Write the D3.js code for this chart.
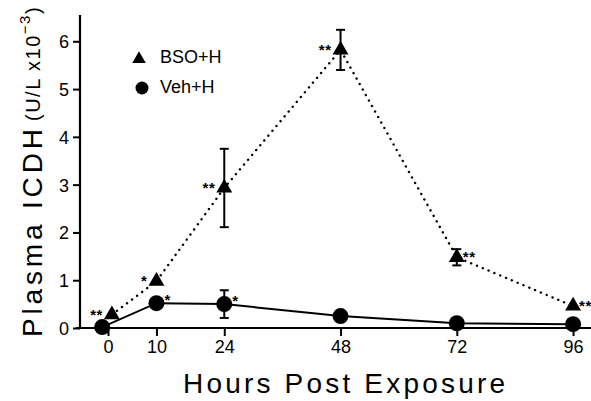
<!DOCTYPE html>
<html>
<head>
<meta charset="utf-8">
<script src="https://cdn.jsdelivr.net/npm/d3@7"></script>
<style>
  body { margin: 0; background: #fff; }
  svg { display: block; font-family: "Liberation Sans", Arial, sans-serif; }
</style>
</head>
<body>
<div id="chart"></div>
<script>
// hours at which samples were taken (markers are nudged a little in the original)
var hoursBSO = [0.8, 10, 24, 48, 72, 96];
var valuesBSO = [0.28, 0.98, 2.93, 5.82, 1.48, 0.46];
var errBSO = [0, 0, 0.82, 0.42, 0.17, 0];
var sigBSO = ["**", "*", "**", "**", "**", "**"];
var sideBSO = ["left", "left", "left", "left", "right", "right"];

var hoursVeh = [-1.2, 10, 24, 48, 72, 96];
var valuesVeh = [0.02, 0.52, 0.50, 0.25, 0.10, 0.08];
var errVeh = [0, 0, 0.29, 0, 0, 0];
var sigVeh = ["", "*", "*", "", "", ""];

var xTicks = [0, 10, 24, 48, 72, 96];
var yTicks = [0, 1, 2, 3, 4, 5, 6];

const width = 591, height = 401;

const svg = d3.select("#chart").append("svg")
  .attr("width", width)
  .attr("height", height);

// scales
const x = d3.scaleLinear().domain([-5.78, 99.7]).range([80, 591]);
const y = d3.scaleLinear().domain([0, 6.55]).range([328, 15]);

const bso = hoursBSO.map((h, i) => ({h: h, v: valuesBSO[i], e: errBSO[i], s: sigBSO[i], side: sideBSO[i]}));
const veh = hoursVeh.map((h, i) => ({h: h, v: valuesVeh[i], e: errVeh[i], s: sigVeh[i]}));

// axes
const xAxis = d3.axisBottom(x).tickValues(xTicks).tickSize(8).tickSizeOuter(0).tickPadding(4);
const yAxis = d3.axisLeft(y).tickValues(yTicks).tickFormat(d3.format("d")).tickSize(7).tickSizeOuter(0).tickPadding(4);

const gx = svg.append("g").attr("transform", `translate(0,${y(0)})`).call(xAxis);
const gy = svg.append("g").attr("transform", `translate(${x.range()[0]},0)`).call(yAxis);

[gx, gy].forEach(g => {
  g.select(".domain").remove();
  g.selectAll("line").attr("stroke", "#000").attr("stroke-width", 2);
  g.selectAll("text")
    .attr("fill", "#000")
    .style("font-size", "18px")
    .style("font-family", "'Liberation Sans', Arial, sans-serif");
});
gy.selectAll("text").attr("dy", "0.36em");

// axis lines
svg.append("line")
  .attr("x1", 76).attr("x2", width)
  .attr("y1", y(0)).attr("y2", y(0))
  .attr("stroke", "#000").attr("stroke-width", 2.2);
svg.append("line")
  .attr("x1", x.range()[0]).attr("x2", x.range()[0])
  .attr("y1", y.range()[1]).attr("y2", y(0) + 1)
  .attr("stroke", "#000").attr("stroke-width", 2.2);

// lines
const line = d3.line().x(d => x(d.h)).y(d => y(d.v));

svg.append("path")
  .datum(veh)
  .attr("d", line)
  .attr("fill", "none")
  .attr("stroke", "#000")
  .attr("stroke-width", 2);

svg.append("path")
  .datum(bso)
  .attr("d", line)
  .attr("fill", "none")
  .attr("stroke", "#000")
  .attr("stroke-width", 2.4)
  .attr("stroke-linecap", "round")
  .attr("stroke-dasharray", "0.1,6.2");

// error bars
function errorBars(data) {
  const g = svg.append("g");
  data.filter(d => d.e > 0).forEach(d => {
    const cx = x(d.h);
    g.append("line")
      .attr("x1", cx).attr("x2", cx)
      .attr("y1", y(d.v + d.e)).attr("y2", y(d.v - d.e))
      .attr("stroke", "#000").attr("stroke-width", 2);
    [d.v + d.e, d.v - d.e].forEach(v => {
      g.append("line")
        .attr("x1", cx - 4.5).attr("x2", cx + 4.5)
        .attr("y1", y(v)).attr("y2", y(v))
        .attr("stroke", "#000").attr("stroke-width", 2);
    });
  });
}
errorBars(bso);
errorBars(veh);

// markers
const tri = d3.symbol().type(d3.symbolTriangle);

svg.selectAll(".tri")
  .data(bso)
  .enter()
  .append("path")
  .attr("class", "tri")
  .attr("d", tri.size(110))
  .attr("transform", d => `translate(${x(d.h)},${y(d.v)})`)
  .attr("fill", "#000");

svg.selectAll(".dot")
  .data(veh)
  .enter()
  .append("circle")
  .attr("class", "dot")
  .attr("cx", d => x(d.h))
  .attr("cy", d => y(d.v))
  .attr("r", 8)
  .attr("fill", "#000");

// significance stars
svg.selectAll(".sigB")
  .data(bso)
  .enter()
  .append("text")
  .attr("class", "sigB")
  .attr("x", d => d.side == "left" ? x(d.h) - 9 : x(d.h) + 6)
  .attr("y", d => y(d.v) + 5)
  .attr("text-anchor", d => d.side == "left" ? "end" : "start")
  .style("font-size", "15px")
  .style("font-weight", "bold")
  .style("letter-spacing", "0.5px")
  .text(d => d.s);

svg.selectAll(".sigV")
  .data(veh)
  .enter()
  .append("text")
  .attr("class", "sigV")
  .attr("x", d => x(d.h) + 8)
  .attr("y", d => y(d.v) + 2)
  .style("font-size", "15px")
  .style("font-weight", "bold")
  .text(d => d.s);

// legend
const legend = svg.append("g");
legend.append("path")
  .attr("d", tri.size(80))
  .attr("transform", "translate(139,59)")
  .attr("fill", "#000");
legend.append("text")
  .attr("x", 160).attr("y", 63)
  .style("font-size", "18px")
  .text("BSO+H");
legend.append("circle")
  .attr("cx", 142).attr("cy", 88).attr("r", 6.5)
  .attr("fill", "#000");
legend.append("text")
  .attr("x", 160).attr("y", 93)
  .style("font-size", "18px")
  .text("Veh+H");

// x title
svg.append("text")
  .attr("x", 183).attr("y", 393)
  .attr("textLength", 322)
  .attr("lengthAdjust", "spacing")
  .style("font-size", "28px")
  .text("Hours Post Exposure");

// y title
const yt = svg.append("g").attr("transform", "translate(42,337) rotate(-90)");
yt.append("text")
  .attr("x", 0).attr("y", 0)
  .attr("textLength", 208)
  .attr("lengthAdjust", "spacing")
  .style("font-size", "28px")
  .text("Plasma ICDH");
const yt2 = yt.append("text")
  .attr("x", 216).attr("y", -2)
  .style("font-size", "20px")
  .style("letter-spacing", "1.5px");
yt2.append("tspan").text("(U/L x10");
yt2.append("tspan").attr("dy", -10).style("font-size", "15px").text("\u22123");
yt2.append("tspan").attr("dy", 10).text(")");
</script>
</body>
</html>
